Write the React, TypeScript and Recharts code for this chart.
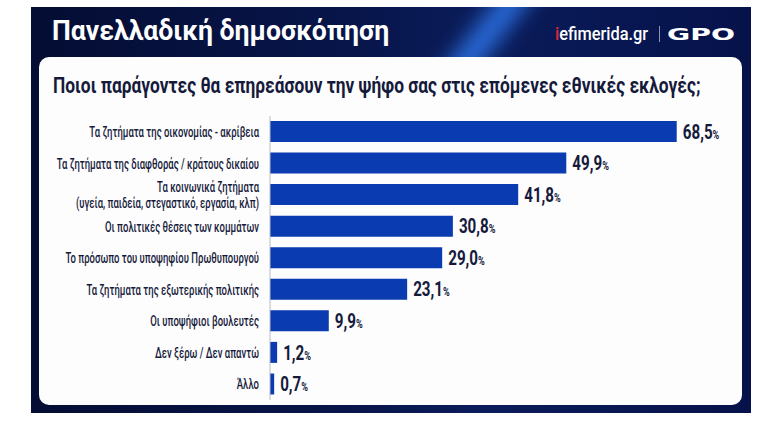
import { BarChart, Bar, XAxis, YAxis, LabelList } from 'recharts';

const CATEGORIES = [
  'Τα ζητήματα της οικονομίας - ακρίβεια',
  'Τα ζητήματα της διαφθοράς / κράτους δικαίου',
  'Τα κοινωνικά ζητήματα\n(υγεία, παιδεία, στεγαστικό, εργασία, κλπ)',
  'Οι πολιτικές θέσεις των κομμάτων',
  'Το πρόσωπο του υποψηφίου Πρωθυπουργού',
  'Τα ζητήματα της εξωτερικής πολιτικής',
  'Οι υποψήφιοι βουλευτές',
  'Δεν ξέρω / Δεν απαντώ',
  'Άλλο',
];
const VALUES = [68.5, 49.9, 41.8, 30.8, 29.0, 23.1, 9.9, 1.2, 0.7];

const TITLE = 'Πανελλαδική δημοσκόπηση';
const QUESTION = 'Ποιοι παράγοντες θα επηρεάσουν την ψήφο σας στις επόμενες εθνικές εκλογές;';

// no condensed face installed, so Roboto is squeezed horizontally instead
const FONT = "Roboto, 'Noto Sans', sans-serif";
const INK = '#151a3a';
const BAR = '#0b3bb0';

const data = CATEGORIES.map((name, i) => ({ name, value: VALUES[i] }));

function CategoryTick({ x, y, payload }: any) {
  const lines: string[] = String(payload.value).split('\n');
  const start = -((lines.length - 1) * 16) / 2;
  return (
    <g transform={`translate(${x},${y}) scale(0.655,1)`}>
      <text x={0} y={0} textAnchor="end" fill={INK} fontFamily={FONT} fontWeight={500} fontSize={14.5}>
        {lines.map((line, i) => (
          <tspan key={i} x={0} y={start + i * 16} dy="0.36em">{line}</tspan>
        ))}
      </text>
    </g>
  );
}

function ValueLabel({ x, y, width, height, value }: any) {
  const txt = Number(value).toFixed(1).replace('.', ',');
  return (
    <g transform={`translate(${x + width + 6},${y + height / 2}) scale(0.76,1)`}>
      <text x={0} y={0} dy="0.36em" fill={INK} fontFamily={FONT} fontWeight={700} fontSize={20}>
        {txt}
        <tspan fontSize={12}>%</tspan>
      </text>
    </g>
  );
}

export default function App() {
  return (
    <div style={{ position: 'absolute', left: 0, top: 0, width: 773, height: 429, background: '#fff', overflow: 'hidden' }}>
      {/* dark frame with header */}
      <div
        style={{
          position: 'absolute',
          left: 31,
          top: 7,
          width: 720,
          height: 406,
          overflow: 'hidden',
          background: 'linear-gradient(90deg, #040d33 0%, #07154a 45%, #0a1c5a 62%, #06124a 100%)',
        }}
      >
        <div
          style={{
            position: 'absolute',
            left: 425,
            top: -40,
            width: 50,
            height: 150,
            background: 'linear-gradient(90deg, rgba(40,110,240,0) 0%, rgba(50,130,255,0.8) 50%, rgba(40,110,240,0) 100%)',
            transform: 'rotate(38deg)',
            filter: 'blur(7px)',
          }}
        />
      </div>
      {/* white panel */}
      <div
        style={{
          position: 'absolute',
          left: 39,
          top: 57,
          width: 703,
          height: 348,
          borderRadius: 10,
          background: '#fdfdfe',
        }}
      />
      <div style={{ position: 'absolute', left: 0, top: 0 }}>
        <BarChart
          width={773}
          height={429}
          data={data}
          layout="vertical"
          margin={{ top: 116, right: 28, bottom: 29, left: 0 }}
          barSize={21}
        >
          <XAxis type="number" domain={[0, 80]} hide />
          <YAxis
            type="category"
            dataKey="name"
            width={270}
            axisLine={{ stroke: '#b9bcc8', strokeWidth: 1 }}
            tickLine={false}
            tickSize={0}
            tickMargin={11}
            interval={0}
            tick={<CategoryTick />}
          />
          <Bar dataKey="value" fill={BAR} isAnimationActive={false}>
            <LabelList dataKey="value" content={<ValueLabel />} />
          </Bar>
        </BarChart>
      </div>
      {/* header texts */}
      <svg width={773} height={429} style={{ position: 'absolute', left: 0, top: 0, pointerEvents: 'none' }}>
        <g transform="translate(52,40) scale(0.95,1)">
          <text x={0} y={0} fill="#ffffff" fontFamily={FONT} fontWeight={700} fontSize={28}>
            {TITLE}
          </text>
        </g>
        <g transform="translate(555,40) scale(0.91,1)">
          <text x={0} y={0} fill="#ffffff" fontFamily={FONT} fontWeight={500} fontSize={18}>
            <tspan fill="#e4262c">i</tspan>efimerida.gr
          </text>
        </g>
        <line x1={659.5} y1={26} x2={659.5} y2={42} stroke="#8d93b0" strokeWidth={1} />
        <text x={667} y={40} fill="#ffffff" fontFamily="'DejaVu Sans', sans-serif" fontWeight={700} fontSize={16} textLength={68} lengthAdjust="spacingAndGlyphs">
          GPO
        </text>
        <g transform="translate(53,93) scale(0.788,1)">
          <text x={0} y={0} fill={INK} fontFamily={FONT} fontWeight={700} fontSize={22}>
            {QUESTION}
          </text>
        </g>
      </svg>
    </div>
  );
}
